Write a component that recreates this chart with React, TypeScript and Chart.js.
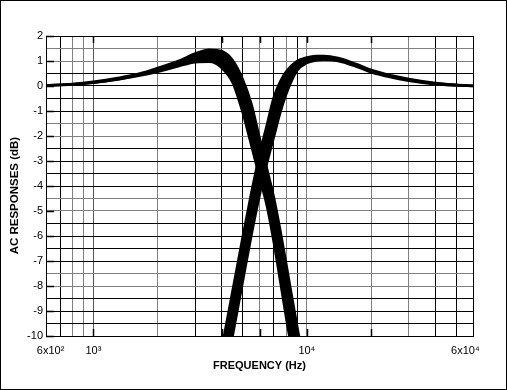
import React, { useEffect, useRef } from 'react';
import { Chart, registerables } from 'chart.js';

Chart.register(...registerables);

// ---- data ----
const lpFreq = [600, 800, 1000, 1300, 1650, 2000, 2500, 3000, 3500, 4000, 4500, 5000, 5500, 6000, 6500, 7000, 7500, 8000, 8500, 9000, 9500];
const lpLow = [0.02, 0.06, 0.13, 0.26, 0.42, 0.57, 0.79, 0.95, 0.97, 0.72, 0.12, -1.05, -2.4, -3.65, -4.8, -6.25, -7.8, -9.27, -10.6, -11.8, -12.9];
const lpMid = [0.02, 0.07, 0.14, 0.27, 0.45, 0.64, 0.88, 1.1, 1.22, 1.1, 0.7, -0.3, -1.58, -2.85, -4.07, -5.3, -6.8, -8.2, -9.5, -10.7, -11.9];
const lpHigh = [0.02, 0.08, 0.17, 0.32, 0.5, 0.72, 1.0, 1.3, 1.45, 1.39, 1.02, 0.28, -0.72, -2.07, -3.3, -4.44, -5.75, -7.1, -8.4, -9.6, -10.7];

const hpFreq = [4000, 4500, 5000, 5500, 6000, 6500, 7000, 7500, 8000, 9000, 10000, 11000, 12000, 14000, 17000, 20000, 25000, 30000, 40000, 50000, 60000];
const hpLow = [-10.46, -8.14, -6.06, -4.25, -2.75, -1.55, -0.45, 0.18, 0.58, 1.0, 1.14, 1.2, 1.2, 1.12, 0.88, 0.64, 0.42, 0.28, 0.12, 0.05, 0.01];
const hpMid = [-11.4, -9.04, -6.94, -5.06, -3.6, -2.37, -1.27, -0.38, 0.2, 0.8, 1.03, 1.1, 1.12, 1.05, 0.82, 0.6, 0.38, 0.25, 0.1, 0.04, 0.0];
const hpHigh = [-12.3, -9.96, -7.86, -5.97, -4.39, -3.1, -2.05, -1.08, -0.33, 0.62, 0.92, 1.02, 1.05, 1.0, 0.78, 0.55, 0.34, 0.21, 0.07, 0.02, 0.0];

// ---- axes ----
const xMin = 600;
const xMax = 60000;
const xGridValues = [600, 700, 800, 900, 1000, 2000, 3000, 4000, 5000, 6000, 7000, 8000, 9000, 10000, 20000, 30000, 40000, 50000, 60000];
const xGrayValues = [800, 900, 2000, 6000, 8000, 10000, 20000, 30000];
const xDarkValues = [1000];
const xLabelValues = [600, 1000, 10000, 60000];
const xLabelTexts = ['   6x10\u00B2', '10\u00B3', '10\u2074', '6x10\u2074     '];
const xMarkValues = [1000, 4000, 6000, 10000, 20000];

const yMin = -10;
const yMax = 2;
const yStep = 0.5;
const yGrayValues = [1.5, 1, -1.5, -2, -4.5, -5, -7.5, -8];

const xTitle = 'FREQUENCY (Hz)';
const yTitle = 'AC RESPONSES (dB)      ';

const FONT = '"Liberation Sans", Arial, Helvetica, sans-serif';

const toPoints = (freq: number[], vals: number[]) => freq.map((f, i) => ({ x: f, y: vals[i] }));

const markPlugin = {
  id: 'innerMarks',
  afterDatasetsDraw(chart: any) {
    const { ctx, chartArea, scales } = chart;
    const { top, bottom, left } = chartArea;
    ctx.save();
    ctx.strokeStyle = '#000';
    ctx.lineWidth = 1.5;
    ctx.beginPath();
    xMarkValues.forEach((v) => {
      const px = Math.round(scales.x.getPixelForValue(v)) + 0.5;
      ctx.moveTo(px, top);
      ctx.lineTo(px, top + 7);
      ctx.moveTo(px, bottom);
      ctx.lineTo(px, bottom - 7);
    });
    for (let v = yMin; v <= yMax; v += 1) {
      const py = Math.round(scales.y.getPixelForValue(v)) + 0.5;
      ctx.moveTo(left, py);
      ctx.lineTo(left + 8, py);
    }
    ctx.stroke();
    ctx.restore();
  },
};

export default function App() {
  const ref = useRef<HTMLCanvasElement | null>(null);

  useEffect(() => {
    if (!ref.current) return;
    Chart.defaults.font.family = FONT;
    Chart.defaults.color = '#000';

    const lineStyle = {
      borderColor: '#000',
      backgroundColor: '#000',
      borderWidth: 2.5,
      pointRadius: 0,
      fill: false as any,
      cubicInterpolationMode: 'monotone' as const,
      clip: 0,
    };

    const chart = new Chart(ref.current, {
      type: 'line',
      data: {
        datasets: [
          { ...lineStyle, label: 'LP a', data: toPoints(lpFreq, lpLow) },
          { ...lineStyle, label: 'LP b', data: toPoints(lpFreq, lpMid) },
          { ...lineStyle, label: 'LP c', data: toPoints(lpFreq, lpHigh), fill: '-2' },
          { ...lineStyle, label: 'HP a', data: toPoints(hpFreq, hpLow) },
          { ...lineStyle, label: 'HP b', data: toPoints(hpFreq, hpMid) },
          { ...lineStyle, label: 'HP c', data: toPoints(hpFreq, hpHigh), fill: '-2' },
        ],
      },
      options: {
        animation: false,
        responsive: false,
        events: [],
        layout: { padding: { top: 35, right: 33, left: 0, bottom: 0 } },
        plugins: { legend: { display: false }, tooltip: { enabled: false }, filler: { propagate: false } },
        scales: {
          x: {
            type: 'logarithmic',
            min: xMin,
            max: xMax,
            afterBuildTicks: (scale: any) => {
              scale.ticks = xGridValues.map((v) => ({ value: v }));
            },
            afterFit: (scale: any) => {
              scale.height = 53;
              scale.paddingLeft = 0;
              scale.paddingRight = 0;
            },
            ticks: {
              autoSkip: false,
              maxRotation: 0,
              minRotation: 0,
              padding: 8,
              font: { size: 11 },
              color: '#000',
              callback: (value: any) => {
                const i = xLabelValues.indexOf(Number(value));
                return i >= 0 ? xLabelTexts[i] : '';
              },
            },
            grid: {
              drawTicks: false,
              lineWidth: 1,
              color: (ctx: any) => {
                const v = ctx.tick ? ctx.tick.value : 0;
                if (xDarkValues.includes(v)) return '#555';
                return xGrayValues.includes(v) ? '#808080' : '#000';
              },
            },
            border: { color: '#000', width: 1 },
            title: {
              display: true,
              text: xTitle,
              font: { size: 11, weight: 'bold' },
              color: '#000',
              padding: { top: 0, bottom: 16 },
            },
          },
          y: {
            type: 'linear',
            min: yMin,
            max: yMax,
            afterFit: (scale: any) => {
              scale.width = 45;
              scale.paddingTop = 0;
              scale.paddingBottom = 0;
            },
            ticks: {
              stepSize: yStep,
              autoSkip: false,
              padding: 3,
              font: { size: 11 },
              color: '#000',
              callback: (value: any) => (Number.isInteger(Number(value)) ? String(value) : ''),
            },
            grid: {
              drawTicks: false,
              lineWidth: 1,
              color: (ctx: any) => {
                const v = ctx.tick ? ctx.tick.value : 0;
                return yGrayValues.includes(v) ? '#808080' : '#000';
              },
            },
            border: { color: '#000', width: 1 },
            title: {
              display: true,
              text: yTitle,
              font: { size: 11.5, weight: 'bold' },
              color: '#000',
              padding: { top: 7, bottom: 0 },
            },
          },
        },
      },
      plugins: [markPlugin],
    } as any);

    return () => chart.destroy();
  }, []);

  return (
    <div
      style={{
        position: 'absolute',
        left: 0,
        top: 0,
        width: 507,
        height: 390,
        border: '1px solid #000',
        boxSizing: 'border-box',
        background: '#fff',
      }}
    >
      <canvas ref={ref} width={505} height={388} style={{ display: 'block', width: 505, height: 388 }} />
    </div>
  );
}
